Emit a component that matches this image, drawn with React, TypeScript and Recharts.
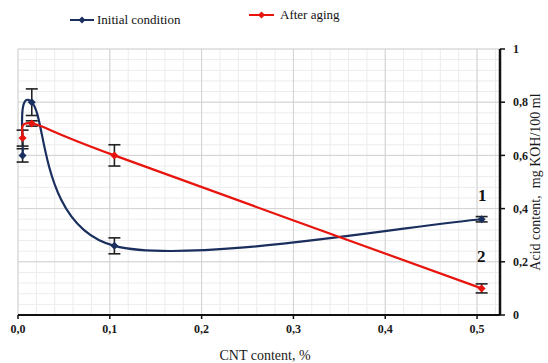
import React from "react";
import {
  LineChart,
  Line,
  XAxis,
  YAxis,
  CartesianGrid,
  ErrorBar,
} from "recharts";

// CNT content, % (as placed on the picture)
const cntContent = [0.005, 0.015, 0.105, 0.505];
// series 1: initial condition
const initialValues = [0.6, 0.8, 0.26, 0.36];
const initialErrors = [0.025, 0.05, 0.03, 0.01];
// series 2: after aging
const agedValues = [0.665, 0.72, 0.6, 0.1];
const agedErrors = [0.03, 0.01, 0.04, 0.017];

const xTicks = [0, 0.1, 0.2, 0.3, 0.4, 0.5];
const yTicks = [0, 0.2, 0.4, 0.6, 0.8, 1];
const xMinor = Array.from({ length: 27 }, (_, i) => +(i * 0.02).toFixed(2));
const yMinor = Array.from({ length: 26 }, (_, i) => +(i * 0.04).toFixed(2));
const X_DOMAIN: [number, number] = [0, 0.525];
const Y_DOMAIN: [number, number] = [0, 1];

const NAVY = "#1b2f5e";
const RED = "#e8140e";
const SERIF = "'Liberation Serif', 'DejaVu Serif', serif";

const data = cntContent.map((x, i) => ({
  x,
  initial: initialValues[i],
  initialErr: initialErrors[i],
  aged: agedValues[i],
  agedErr: agedErrors[i],
}));

// Excel-like smoothed line (Catmull-Rom through the points)
function excelSmooth(context: any) {
  let pts: number[][] = [];
  return {
    areaStart() {},
    areaEnd() {},
    lineStart() {
      pts = [];
    },
    point(x: number, y: number) {
      pts.push([+x, +y]);
    },
    lineEnd() {
      const n = pts.length;
      if (!n) return;
      context.moveTo(pts[0][0], pts[0][1]);
      for (let i = 0; i < n - 1; i++) {
        const p0 = pts[Math.max(i - 1, 0)];
        const p1 = pts[i];
        const p2 = pts[i + 1];
        const p3 = pts[Math.min(i + 2, n - 1)];
        context.bezierCurveTo(
          p1[0] + (p2[0] - p0[0]) / 6,
          p1[1] + (p2[1] - p0[1]) / 6,
          p2[0] - (p3[0] - p1[0]) / 6,
          p2[1] - (p3[1] - p1[1]) / 6,
          p2[0],
          p2[1]
        );
      }
    },
  };
}

const diamond = (color: string, r: number) => (props: any) => {
  const { cx, cy, index } = props;
  if (cx == null || cy == null) return <g key={index} />;
  return (
    <path
      key={index}
      d={`M${cx},${cy - r} L${cx + r},${cy} L${cx},${cy + r} L${cx - r},${cy} Z`}
      fill={color}
    />
  );
};

const fmtX = (v: number) => v.toFixed(1).replace(".", ",");
const fmtY = (v: number) => (v === 0 || v === 1 ? String(v) : v.toFixed(1).replace(".", ","));

// grid positions from the plot offset and the axis domains
const vGen = (values: number[]) => (props: any) => {
  const o = props.offset;
  return values.map((v) => o.left + ((v - X_DOMAIN[0]) / (X_DOMAIN[1] - X_DOMAIN[0])) * o.width);
};
const hGen = (values: number[]) => (props: any) => {
  const o = props.offset;
  return values.map((v) => o.top + o.height - ((v - Y_DOMAIN[0]) / (Y_DOMAIN[1] - Y_DOMAIN[0])) * o.height);
};

const tickStyle = { fontFamily: SERIF, fontSize: 12, fontWeight: 700, fill: "#1a1a1a" };

export default function App() {
  return (
    <div style={{ position: "absolute", left: 0, top: 0, width: 548, height: 363, background: "#fff" }}>
      <LineChart
        width={548}
        height={363}
        data={data}
        margin={{ top: 49, right: 0, bottom: 0, left: 18 }}
      >
        <CartesianGrid
          stroke="#ececec"
          strokeWidth={1}
          verticalCoordinatesGenerator={vGen(xMinor)}
          horizontalCoordinatesGenerator={hGen(yMinor)}
        />
        <CartesianGrid
          stroke="#d2d2d2"
          strokeWidth={1}
          verticalCoordinatesGenerator={vGen(xTicks)}
          horizontalCoordinatesGenerator={hGen(yTicks)}
        />
        <XAxis
          dataKey="x"
          type="number"
          domain={X_DOMAIN}
          ticks={xTicks}
          tickFormatter={fmtX}
          height={48}
          axisLine={{ stroke: "#111", strokeWidth: 2 }}
          tickLine={{ stroke: "#111", strokeWidth: 1.5 }}
          tickSize={4}
          tickMargin={5}
          tick={tickStyle}
          allowDataOverflow
          label={{
            value: "CNT content, %",
            position: "insideBottom",
            offset: 3,
            dx: 6,
            style: { fontFamily: SERIF, fontSize: 14, fill: "#1a1a1a" },
          }}
        />
        <YAxis
          orientation="right"
          type="number"
          domain={Y_DOMAIN}
          ticks={yTicks}
          tickFormatter={fmtY}
          width={48}
          axisLine={{ stroke: "#111", strokeWidth: 2.5 }}
          tickLine={{ stroke: "#111", strokeWidth: 1.5 }}
          tickSize={5}
          tickMargin={8}
          tick={tickStyle}
          label={{
            value: "Acid content,\u00a0 mg KOH/100 ml",
            angle: -90,
            position: "center",
            dx: 11,
            style: { fontFamily: SERIF, fontSize: 14, fill: "#1a1a1a", textAnchor: "middle" },
          }}
        />
        <Line
          dataKey="initial"
          type={excelSmooth as any}
          stroke={NAVY}
          strokeWidth={2.2}
          dot={diamond(NAVY, 4)}
          activeDot={false}
          isAnimationActive={false}
        >
          <ErrorBar dataKey="initialErr" direction="y" width={6} stroke="#222" strokeWidth={1.6} />
        </Line>
        <Line
          dataKey="aged"
          type={excelSmooth as any}
          stroke={RED}
          strokeWidth={2.2}
          dot={diamond(RED, 4)}
          activeDot={false}
          isAnimationActive={false}
        >
          <ErrorBar dataKey="agedErr" direction="y" width={6} stroke="#222" strokeWidth={1.6} />
        </Line>
      </LineChart>

      {/* legend */}
      <div style={{ position: "absolute", left: 70, top: 12, display: "flex", alignItems: "center", fontFamily: SERIF, fontSize: 13, color: "#111" }}>
        <svg width={24} height={10} style={{ marginRight: 3 }}>
          <line x1={0} y1={5} x2={24} y2={5} stroke={NAVY} strokeWidth={2} />
          <path d="M12,1.5 L15.5,5 L12,8.5 L8.5,5 Z" fill={NAVY} />
        </svg>
        <span>Initial condition</span>
      </div>
      <div style={{ position: "absolute", left: 249, top: 7, display: "flex", alignItems: "center", fontFamily: SERIF, fontSize: 13, color: "#111" }}>
        <svg width={25} height={10} style={{ marginRight: 6 }}>
          <line x1={0} y1={5} x2={25} y2={5} stroke={RED} strokeWidth={2} />
          <path d="M12.5,1.5 L16,5 L12.5,8.5 L9,5 Z" fill={RED} />
        </svg>
        <span>After aging</span>
      </div>

      {/* curve numbers */}
      <div style={{ position: "absolute", left: 478, top: 186, fontFamily: SERIF, fontSize: 17, fontWeight: 700, color: "#111" }}>1</div>
      <div style={{ position: "absolute", left: 477, top: 247, fontFamily: SERIF, fontSize: 17, fontWeight: 700, color: "#111" }}>2</div>
    </div>
  );
}
